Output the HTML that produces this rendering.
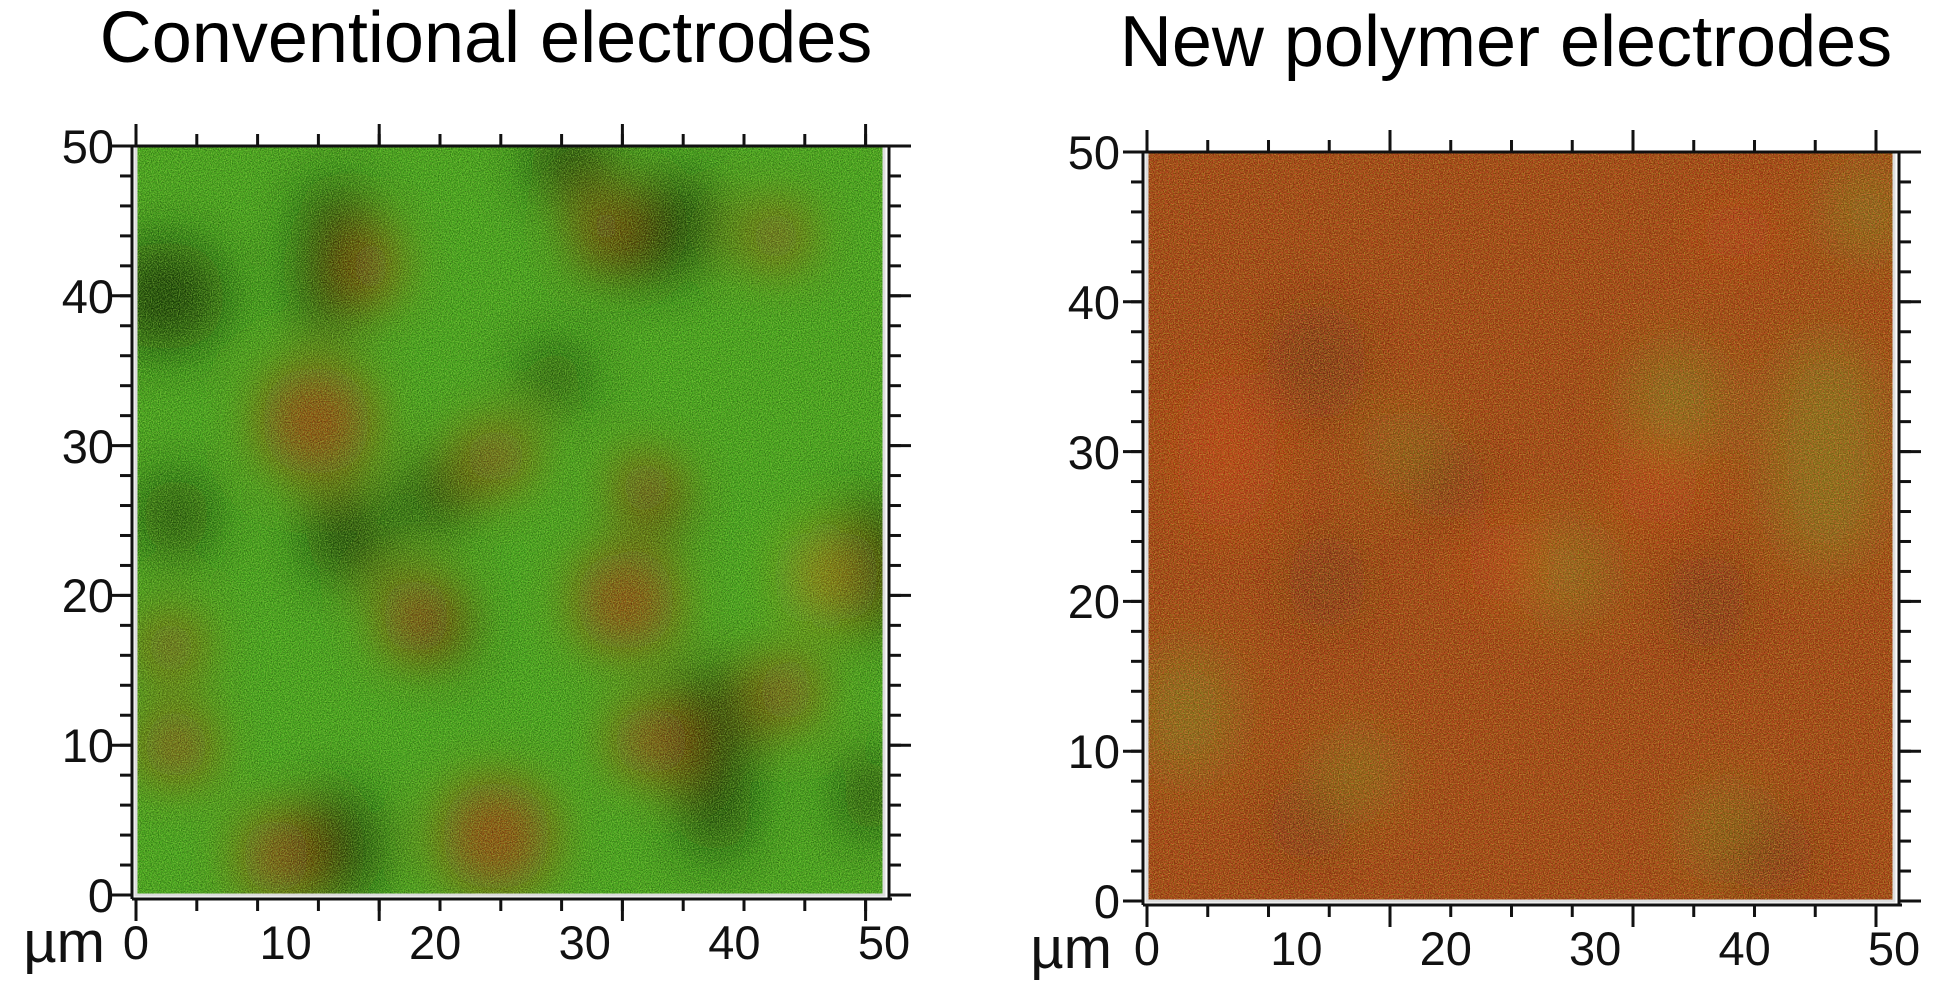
<!DOCTYPE html>
<html><head><meta charset="utf-8"><style>
html,body{margin:0;padding:0;background:#fff;}
body{width:1934px;height:990px;position:relative;overflow:hidden;font-family:"Liberation Sans",sans-serif;}
</style></head><body>
<svg width="1934" height="990" viewBox="0 0 1934 990" xmlns="http://www.w3.org/2000/svg" font-family="Liberation Sans, sans-serif">
<defs>
  <filter id="blur1" x="-20%" y="-20%" width="140%" height="140%"><feGaussianBlur stdDeviation="28"/></filter>
  <filter id="noiseL" x="0" y="0" width="100%" height="100%">
    <feTurbulence type="fractalNoise" baseFrequency="0.9" numOctaves="1" seed="3" result="t"/>
    <feColorMatrix in="t" type="matrix" values="0 0 0 0 0  0 0 0 0 0  0 0 0 0 0  1.6 0 0 0 -0.6"/>
  </filter>
  <filter id="noiseL2" x="0" y="0" width="100%" height="100%">
    <feTurbulence type="fractalNoise" baseFrequency="0.85" numOctaves="1" seed="9" result="t"/>
    <feColorMatrix in="t" type="matrix" values="0 0 0 0 0.45  0 0 0 0 0.9  0 0 0 0 0.1  1.8 0 0 0 -0.7"/>
  </filter>
  <filter id="noiseR" x="0" y="0" width="100%" height="100%">
    <feTurbulence type="fractalNoise" baseFrequency="0.8" numOctaves="1" seed="5" result="t"/>
    <feColorMatrix in="t" type="matrix" values="0 0 0 0 0.45  0 0 0 0 0.65  0 0 0 0 0.05  2.2 0 0 0 -0.95"/>
  </filter>
  <filter id="noiseR2" x="0" y="0" width="100%" height="100%">
    <feTurbulence type="fractalNoise" baseFrequency="0.8" numOctaves="1" seed="11" result="t"/>
    <feColorMatrix in="t" type="matrix" values="0 0 0 0 0.95  0 0 0 0 0.15  0 0 0 0 0.05  2.2 0 0 0 -0.85"/>
  </filter>
  <filter id="noiseD" x="0" y="0" width="100%" height="100%">
    <feTurbulence type="fractalNoise" baseFrequency="0.8" numOctaves="1" seed="17" result="t"/>
    <feColorMatrix in="t" type="matrix" values="0 0 0 0 0.15  0 0 0 0 0.08  0 0 0 0 0  2 0 0 0 -0.85"/>
  </filter>
  <clipPath id="cL"><rect x="0" y="0" width="748" height="749"/></clipPath>
  <clipPath id="cR"><rect x="0" y="0" width="747" height="749"/></clipPath>
  <pattern id="pxL" patternUnits="userSpaceOnUse" x="134.5" y="0" width="60.8" height="1000"><rect x="0" y="0" width="3" height="1000" fill="#111"/></pattern>
  <pattern id="pxR" patternUnits="userSpaceOnUse" x="1145.5" y="0" width="60.75" height="1000"><rect x="0" y="0" width="3" height="1000" fill="#111"/></pattern>
  <pattern id="pyL" patternUnits="userSpaceOnUse" x="0" y="144.5" width="2000" height="29.96"><rect x="0" y="0" width="2000" height="3" fill="#111"/></pattern>
  <pattern id="pyR" patternUnits="userSpaceOnUse" x="0" y="150.5" width="2000" height="29.96"><rect x="0" y="0" width="2000" height="3" fill="#111"/></pattern>
</defs>

<text x="486" y="62" font-size="72" text-anchor="middle" fill="#000">Conventional electrodes</text>
<text x="1506" y="66" font-size="72" text-anchor="middle" fill="#000">New polymer electrodes</text>

<!-- LEFT PLOT -->
<g transform="translate(136,146)">
 <g clip-path="url(#cL)">
  <rect width="748" height="749" fill="#46a81e"/>
  <g filter="url(#blur1)">
   <g fill="#0f2a06" opacity="0.85">
    <ellipse cx="30" cy="150" rx="60" ry="55"/>
    <ellipse cx="200" cy="85" rx="35" ry="50"/>
    <ellipse cx="195" cy="145" rx="35" ry="40"/>
    <ellipse cx="435" cy="15" rx="40" ry="40"/>
    <ellipse cx="505" cy="95" rx="70" ry="40"/>
    <ellipse cx="540" cy="60" rx="40" ry="30"/>
    <ellipse cx="210" cy="390" rx="40" ry="45"/>
    <ellipse cx="300" cy="350" rx="35" ry="35"/>
    <ellipse cx="300" cy="480" rx="35" ry="40"/>
    <ellipse cx="740" cy="420" rx="45" ry="70"/>
    <ellipse cx="575" cy="580" rx="45" ry="60"/>
    <ellipse cx="580" cy="660" rx="35" ry="50"/>
    <ellipse cx="200" cy="700" rx="45" ry="55"/>
    <ellipse cx="735" cy="650" rx="30" ry="40"/>
    <ellipse cx="40" cy="370" rx="35" ry="40"/>
    <ellipse cx="420" cy="230" rx="30" ry="30"/>
    <ellipse cx="520" cy="360" rx="30" ry="30"/>
   </g>
   <g fill="#a83a12" opacity="0.9">
    <ellipse cx="180" cy="275" rx="55" ry="55"/>
    <ellipse cx="360" cy="310" rx="35" ry="30"/>
    <ellipse cx="490" cy="455" rx="50" ry="50"/>
    <ellipse cx="360" cy="690" rx="55" ry="55"/>
    <ellipse cx="515" cy="595" rx="40" ry="35"/>
    <ellipse cx="650" cy="545" rx="30" ry="35"/>
    <ellipse cx="40" cy="600" rx="35" ry="35"/>
    <ellipse cx="140" cy="710" rx="35" ry="40"/>
    <ellipse cx="510" cy="340" rx="30" ry="30"/>
    <ellipse cx="470" cy="80" rx="25" ry="30"/>
    <ellipse cx="235" cy="120" rx="25" ry="35"/>
    <ellipse cx="640" cy="90" rx="30" ry="30"/>
    <ellipse cx="280" cy="470" rx="35" ry="40"/>
    <ellipse cx="35" cy="500" rx="30" ry="30"/>
   </g>
   <ellipse cx="690" cy="430" rx="35" ry="45" fill="#b07a18" opacity="0.9"/>
  </g>
  <rect width="748" height="749" filter="url(#noiseL)" opacity="0.6"/>
  <rect width="748" height="749" filter="url(#noiseL2)" opacity="0.7"/>
 </g>
 <rect x="0" y="0" width="748" height="749" fill="none" stroke="#ddd" stroke-width="3"/>
</g>

<!-- RIGHT PLOT -->
<g transform="translate(1147,152)">
 <g clip-path="url(#cR)">
  <rect width="747" height="749" fill="#8e3010"/>
  <g filter="url(#blur1)">
   <g fill="#6c7a18" opacity="0.7">
    <ellipse cx="530" cy="250" rx="50" ry="60"/>
    <ellipse cx="680" cy="300" rx="60" ry="120"/>
    <ellipse cx="40" cy="560" rx="50" ry="70"/>
    <ellipse cx="580" cy="680" rx="40" ry="50"/>
    <ellipse cx="260" cy="300" rx="30" ry="40"/>
    <ellipse cx="420" cy="420" rx="40" ry="50"/>
    <ellipse cx="720" cy="60" rx="40" ry="50"/>
    <ellipse cx="210" cy="620" rx="40" ry="40"/>
   </g>
   <g fill="#5a200a" opacity="0.7">
    <ellipse cx="170" cy="210" rx="50" ry="60"/>
    <ellipse cx="180" cy="430" rx="40" ry="50"/>
    <ellipse cx="300" cy="330" rx="40" ry="40"/>
    <ellipse cx="560" cy="450" rx="40" ry="50"/>
    <ellipse cx="620" cy="700" rx="50" ry="40"/>
    <ellipse cx="160" cy="670" rx="40" ry="40"/>
   </g>
   <g fill="#b8300e" opacity="0.7">
    <ellipse cx="510" cy="330" rx="40" ry="45"/>
    <ellipse cx="360" cy="410" rx="40" ry="40"/>
    <ellipse cx="80" cy="300" rx="50" ry="80"/>
    <ellipse cx="590" cy="80" rx="40" ry="30"/>
   </g>
  </g>
  <rect width="747" height="749" filter="url(#noiseR2)" opacity="0.85"/>
  <rect width="747" height="749" filter="url(#noiseR)" opacity="0.7"/>
  <rect width="747" height="749" filter="url(#noiseD)" opacity="0.6"/>
 </g>
 <rect x="0" y="0" width="747" height="749" fill="none" stroke="#ddd" stroke-width="3"/>
</g>

<!-- LEFT AXES -->
<g stroke="#111" stroke-width="3" fill="none">
 <path d="M132 146H892 M132 899H892 M132 146V899 M889 146V899"/>
 <path d="M136 146v-22 M379.2 146v-22 M622.4 146v-22 M865.6 146v-22 M136 899v22 M379.2 899v22 M622.4 899v22 M865.6 899v22"/>
 <path d="M132 895h-20 M132 745.2h-20 M132 595.4h-20 M132 445.6h-20 M132 295.8h-20 M132 146h-20 M889 895h22 M889 745.2h22 M889 595.4h22 M889 445.6h22 M889 295.8h22 M889 146h22"/>
</g>
<rect x="134.5" y="134" width="735" height="12" fill="url(#pxL)"/>
<rect x="134.5" y="899" width="735" height="12" fill="url(#pxL)"/>
<rect x="120" y="144" width="12" height="753" fill="url(#pyL)"/>
<rect x="889" y="144" width="12" height="753" fill="url(#pyL)"/>
<g font-size="47" fill="#111">
 <g text-anchor="end">
  <text x="114" y="912">0</text><text x="114" y="762">10</text><text x="114" y="612">20</text>
  <text x="114" y="463">30</text><text x="114" y="313">40</text><text x="114" y="163">50</text>
 </g>
 <g text-anchor="middle">
  <text x="136" y="959">0</text><text x="285.6" y="959">10</text><text x="435.2" y="959">20</text>
  <text x="584.8" y="959">30</text><text x="734.4" y="959">40</text><text x="884" y="959">50</text>
 </g>
 <text x="105" y="962" text-anchor="end" font-size="58">µm</text>
</g>

<!-- RIGHT AXES -->
<g stroke="#111" stroke-width="3" fill="none">
 <path d="M1143 152H1902 M1143 905H1902 M1143 152V905 M1899 152V905"/>
 <path d="M1147 152v-22 M1390 152v-22 M1633 152v-22 M1876 152v-22 M1147 905v22 M1390 905v22 M1633 905v22 M1876 905v22"/>
 <path d="M1143 901h-20 M1143 751.2h-20 M1143 601.4h-20 M1143 451.6h-20 M1143 301.8h-20 M1143 152h-20 M1899 901h22 M1899 751.2h22 M1899 601.4h22 M1899 451.6h22 M1899 301.8h22 M1899 152h22"/>
</g>
<rect x="1145.5" y="140" width="735" height="12" fill="url(#pxR)"/>
<rect x="1145.5" y="905" width="735" height="12" fill="url(#pxR)"/>
<rect x="1131" y="150" width="12" height="753" fill="url(#pyR)"/>
<rect x="1899" y="150" width="12" height="753" fill="url(#pyR)"/>
<g font-size="47" fill="#111">
 <g text-anchor="end">
  <text x="1120" y="918">0</text><text x="1120" y="768">10</text><text x="1120" y="618">20</text>
  <text x="1120" y="469">30</text><text x="1120" y="319">40</text><text x="1120" y="169">50</text>
 </g>
 <g text-anchor="middle">
  <text x="1147" y="965">0</text><text x="1296.4" y="965">10</text><text x="1445.8" y="965">20</text>
  <text x="1595.2" y="965">30</text><text x="1744.6" y="965">40</text><text x="1894" y="965">50</text>
 </g>
 <text x="1112" y="968" text-anchor="end" font-size="58">µm</text>
</g>
</svg>
</body></html>
